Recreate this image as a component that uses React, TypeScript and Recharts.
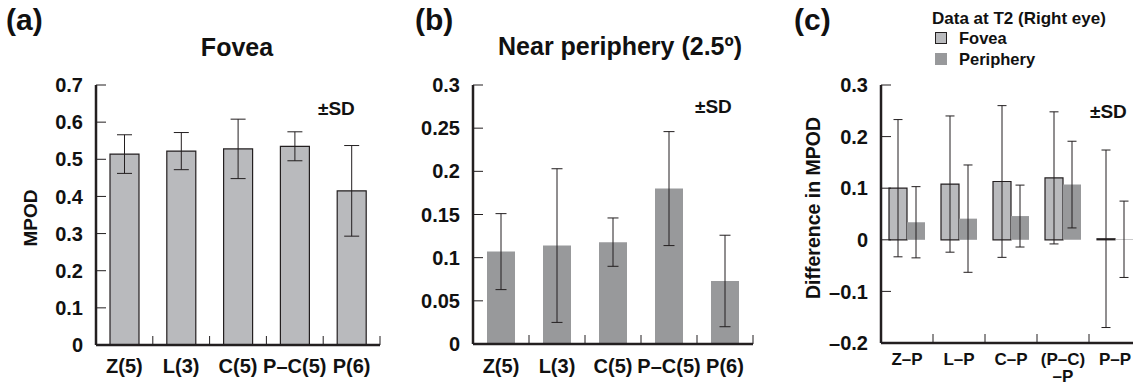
import { BarChart, Bar, XAxis, YAxis, ErrorBar } from 'recharts';

const FONT = '"Liberation Sans", Arial, Helvetica, sans-serif';
const INK = '#231f20';
const FOVEA_FILL = '#b9babd';
const PERI_FILL = '#98999b';

// (a) Fovea
const fovCats = ['Z(5)', 'L(3)', 'C(5)', 'P–C(5)', 'P(6)'];
const fovMean = [0.514, 0.522, 0.528, 0.535, 0.415];
const fovSd = [0.052, 0.05, 0.08, 0.039, 0.122];
const fovTicks = [0, 0.1, 0.2, 0.3, 0.4, 0.5, 0.6, 0.7];

// (b) Near periphery
const periCats = ['Z(5)', 'L(3)', 'C(5)', 'P–C(5)', 'P(6)'];
const periMean = [0.107, 0.114, 0.118, 0.18, 0.073];
const periSd = [0.044, 0.089, 0.028, 0.066, 0.053];
const periTicks = [0, 0.05, 0.1, 0.15, 0.2, 0.25, 0.3];

// (c) Difference at T2 (right eye)
const diffCats = ['Z–P', 'L–P', 'C–P', '(P–C)\n–P', 'P–P'];
const diffFovea = [0.1, 0.108, 0.113, 0.12, 0.002];
const diffFoveaSd = [0.133, 0.132, 0.147, 0.128, 0.172];
const diffPeri = [0.034, 0.041, 0.046, 0.107, 0.001];
const diffPeriSd = [0.069, 0.104, 0.06, 0.084, 0.074];
const diffTicks = [-0.2, -0.1, 0, 0.1, 0.2, 0.3];

const dataA = fovCats.map((name, i) => ({ name, mean: fovMean[i], sd: fovSd[i] }));
const dataB = periCats.map((name, i) => ({ name, mean: periMean[i], sd: periSd[i] }));
const dataC = diffCats.map((name, i) => ({
  name,
  fovea: diffFovea[i],
  foveaSd: diffFoveaSd[i],
  periphery: diffPeri[i],
  peripherySd: diffPeriSd[i],
}));

const fmtTick = (v: number) => (v < 0 ? `–${Math.abs(v)}` : `${v}`);

function XTick(props: any) {
  const { x, y, payload, band, fontSize, dy, lineH } = props;
  const lines = String(payload.value).split('\n');
  return (
    <g>
      <line x1={x + band / 2} x2={x + band / 2} y1={y} y2={y - 9} stroke={INK} strokeWidth={1} />
      <text x={x} y={y + dy} textAnchor="middle" fontFamily={FONT} fontWeight="bold" fontSize={fontSize} fill="#111">
        {lines.map((l, i) => (
          <tspan key={i} x={x} dy={i === 0 ? 0 : lineH}>
            {l}
          </tspan>
        ))}
      </text>
    </g>
  );
}

const yTickStyle = { fill: '#111', fontSize: 20, fontWeight: 'bold', fontFamily: FONT };
const axisLineStyle = { stroke: INK, strokeWidth: 2.5 };
const tickLineStyle = { stroke: INK, strokeWidth: 1 };

function LegendBox() {
  return (
    <div style={{ fontFamily: FONT, fontWeight: 'bold', color: '#111', lineHeight: 1 }}>
      <div style={{ fontSize: 17 }}>Data at T2 (Right eye)</div>
      <div style={{ display: 'flex', alignItems: 'center', marginTop: 3, fontSize: 16.5 }}>
        <span style={{ width: 10, height: 10, background: FOVEA_FILL, border: `1.2px solid ${INK}`, margin: '0 12px 0 3px' }} />
        Fovea
      </div>
      <div style={{ display: 'flex', alignItems: 'center', marginTop: 4, fontSize: 16.5 }}>
        <span style={{ width: 12, height: 12, background: PERI_FILL, margin: '0 12px 0 3px' }} />
        Periphery
      </div>
    </div>
  );
}

export default function App() {
  const wA = 385, yA = 96, rA = 5;
  const wB = 370, yB = 88, rB = 2;
  const wC = 385, yC = 121, rC = 4;
  const bandA = (wA - yA - rA) / fovCats.length;
  const bandB = (wB - yB - rB) / periCats.length;
  const bandC = (wC - yC - rC) / diffCats.length;

  return (
    <div style={{ position: 'absolute', left: 0, top: 0, width: 1133, height: 387, overflow: 'hidden', background: '#fff' }}>
      <div style={{ position: 'absolute', left: 0, top: 0 }}>
        <BarChart width={wA} height={387} data={dataA} margin={{ top: 85, right: rA, bottom: 0, left: 0 }}>
          <XAxis
            dataKey="name"
            height={42}
            axisLine={axisLineStyle}
            tickLine={false}
            tickSize={0}
            tickMargin={0}
            interval={0}
            tick={(p: any) => <XTick {...p} band={bandA} fontSize={20} dy={28} lineH={20} />}
          />
          <YAxis
            width={yA}
            domain={[0, 0.7]}
            ticks={fovTicks}
            interval={0}
            axisLine={axisLineStyle}
            tickLine={tickLineStyle}
            tickSize={-10}
            tickMargin={23}
            tick={yTickStyle}
            tickFormatter={fmtTick}
          />
          <Bar dataKey="mean" fill={FOVEA_FILL} stroke={INK} strokeWidth={1.2} barSize={29} isAnimationActive={false}>
            <ErrorBar dataKey="sd" width={7.5} stroke={INK} strokeWidth={1} isAnimationActive={false} />
          </Bar>
        </BarChart>
      </div>

      <div style={{ position: 'absolute', left: 385, top: 0 }}>
        <BarChart width={wB} height={387} data={dataB} margin={{ top: 85, right: rB, bottom: 0, left: 0 }}>
          <XAxis
            dataKey="name"
            height={43}
            axisLine={axisLineStyle}
            tickLine={false}
            tickSize={0}
            tickMargin={0}
            interval={0}
            tick={(p: any) => <XTick {...p} band={bandB} fontSize={20} dy={29} lineH={20} />}
          />
          <YAxis
            width={yB}
            domain={[0, 0.3]}
            ticks={periTicks}
            interval={0}
            axisLine={axisLineStyle}
            tickLine={tickLineStyle}
            tickSize={-10}
            tickMargin={23}
            tick={yTickStyle}
            tickFormatter={fmtTick}
          />
          <Bar dataKey="mean" fill={PERI_FILL} barSize={28} isAnimationActive={false}>
            <ErrorBar dataKey="sd" width={5.5} stroke={INK} strokeWidth={1} isAnimationActive={false} />
          </Bar>
        </BarChart>
      </div>

      <div style={{ position: 'absolute', left: 760, top: 0 }}>
        <BarChart width={wC} height={387} data={dataC} margin={{ top: 85, right: rC, bottom: 0, left: 0 }} barGap={0}>
          <XAxis
            dataKey="name"
            height={44}
            axisLine={axisLineStyle}
            tickLine={false}
            tickSize={0}
            tickMargin={0}
            interval={0}
            tick={(p: any) => <XTick {...p} band={bandC} fontSize={17} dy={22} lineH={17} />}
          />
          <YAxis
            width={yC}
            domain={[-0.2, 0.3]}
            ticks={diffTicks}
            interval={0}
            axisLine={axisLineStyle}
            tickLine={tickLineStyle}
            tickSize={-10}
            tickMargin={23}
            tick={yTickStyle}
            tickFormatter={fmtTick}
          />
          <Bar dataKey="fovea" name="Fovea" fill={FOVEA_FILL} stroke={INK} strokeWidth={1.2} barSize={18} isAnimationActive={false}>
            <ErrorBar dataKey="foveaSd" width={4.5} stroke={INK} strokeWidth={1} isAnimationActive={false} />
          </Bar>
          <Bar dataKey="periphery" name="Periphery" fill={PERI_FILL} barSize={18} isAnimationActive={false}>
            <ErrorBar dataKey="peripherySd" width={4.5} stroke={INK} strokeWidth={1} isAnimationActive={false} />
          </Bar>
        </BarChart>
      </div>

      <div style={{ position: 'absolute', left: 932, top: 10 }}>
        <LegendBox />
      </div>

      <svg
        width={1133}
        height={387}
        style={{ position: 'absolute', left: 0, top: 0, pointerEvents: 'none' }}
        fontFamily={FONT}
        fontWeight="bold"
        fill="#111"
      >
        <text x={6} y={30} fontSize={30}>(a)</text>
        <text x={415} y={30} fontSize={30}>(b)</text>
        <text x={794} y={30} fontSize={30}>(c)</text>
        <text x={237} y={56} fontSize={25} textAnchor="middle">Fovea</text>
        <text x={620} y={55} fontSize={25} textAnchor="middle">Near periphery (2.5º)</text>
        <text x={318} y={115} fontSize={19}>±SD</text>
        <text x={695} y={113} fontSize={19}>±SD</text>
        <text x={1090} y={118} fontSize={19}>±SD</text>
        <text transform="translate(37,218) rotate(-90)" fontSize={19} textAnchor="middle">MPOD</text>
        <text transform="translate(820,208) rotate(-90)" fontSize={19.5} textAnchor="middle">Difference in MPOD</text>
      </svg>
    </div>
  );
}
